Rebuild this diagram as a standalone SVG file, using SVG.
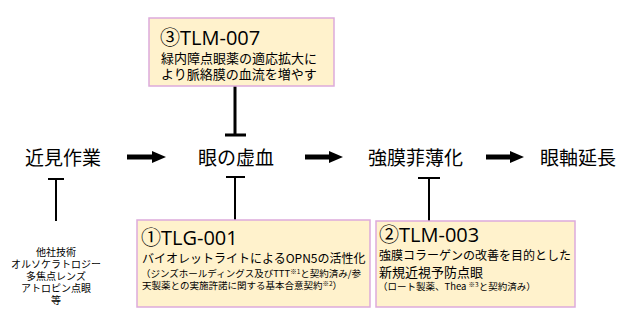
<svg xmlns="http://www.w3.org/2000/svg" width="640" height="325" viewBox="0 0 640 325">
<defs>
<style>
text{font-family:"Noto Sans CJK JP","Noto Sans",sans-serif;fill:#000}
.main{font-size:19px}
.box{fill:#FFF2CC;stroke:#DDAADB;stroke-width:1.5}
.ttl{font-size:20px;font-family:"Open Sans","Noto Sans CJK JP",sans-serif}
.b13{font-size:13px}
.b12{font-size:12px}
.b10{font-size:9.5px}
.sup{font-size:6.5px}
.ls{font-size:10px;text-anchor:middle}
.arr{stroke:#000;stroke-width:5;fill:none}
.tk{stroke:#000;stroke-width:3;fill:none}
.tn{stroke:#000;stroke-width:2;fill:none}
</style>
<marker id="ah" markerUnits="userSpaceOnUse" markerWidth="14" markerHeight="12" viewBox="0 0 14 12" refX="1" refY="6" orient="auto">
<path d="M0,0 L14,6 L0,12 z" fill="#000"/>
</marker>
</defs>
<rect width="640" height="325" fill="#fff"/>
<g id="connectors">
<line class="arr" x1="127" y1="157" x2="153" y2="157" marker-end="url(#ah)"/>
<line class="arr" x1="305" y1="157" x2="330" y2="157" marker-end="url(#ah)"/>
<line class="arr" x1="486" y1="157" x2="511" y2="157" marker-end="url(#ah)"/>
<path class="tk" d="M235,86 V135 M225,135 H246"/>
<path class="tn" d="M235,220 V177 M226,177 H245"/>
<path class="tn" d="M56,221 V179 M48,179 H64"/>
<path class="tn" d="M429,221 V178 M418,178 H440"/>
</g>
<g id="n-kinmi"><text class="main" x="25" y="165">近見作業</text></g>
<g id="n-kyoketsu"><text class="main" x="198" y="165">眼の虚血</text></g>
<g id="n-kyomaku"><text class="main" x="368" y="165">強膜菲薄化</text></g>
<g id="n-gankujiku"><text class="main" x="540" y="165">眼軸延長</text></g>
<g id="n-other">
<text class="ls"><tspan x="56" y="256">他社技術</tspan><tspan x="56" y="268">オルソケラトロジー</tspan><tspan x="56" y="280">多焦点レンズ</tspan><tspan x="56" y="292">アトロピン点眼</tspan><tspan x="56" y="304">等</tspan></text>
</g>
<g id="n-tlm007">
<rect class="box" x="149" y="18" width="185" height="68"/>
<text class="ttl" x="160" y="45">③TLM-007</text>
<text class="b13"><tspan x="161" y="63">緑内障点眼薬の適応拡大に</tspan><tspan x="161" y="79">より脈絡膜の血流を増やす</tspan></text>
</g>
<g id="n-tlg001">
<rect class="box" x="137" y="220" width="233" height="87"/>
<text class="ttl" x="141" y="245">①TLG-001</text>
<text class="b12" x="142" y="263">バイオレットライトによるOPN5の活性化</text>
<text class="b10"><tspan x="141" y="277">（ジンズホールディングス及びTTT</tspan><tspan class="sup" dy="-3">※1</tspan><tspan dy="3">と契約済み/参</tspan><tspan x="142" y="289">天製薬との実施許諾に関する基本合意契約</tspan><tspan class="sup" dy="-3">※2</tspan><tspan dy="3">）</tspan></text>
</g>
<g id="n-tlm003">
<rect class="box" x="376" y="221" width="199" height="86"/>
<text class="ttl" x="379" y="242">②TLM-003</text>
<text><tspan class="b12" x="379" y="260">強膜コラーゲンの改善を目的とした</tspan><tspan class="b13" x="379" y="277">新規近視予防点眼</tspan></text>
<text class="b10" x="378" y="290">（ロート製薬、Thea <tspan class="sup" dy="-3">※3</tspan><tspan dy="3">と契約済み）</tspan></text>
</g>
</svg>
